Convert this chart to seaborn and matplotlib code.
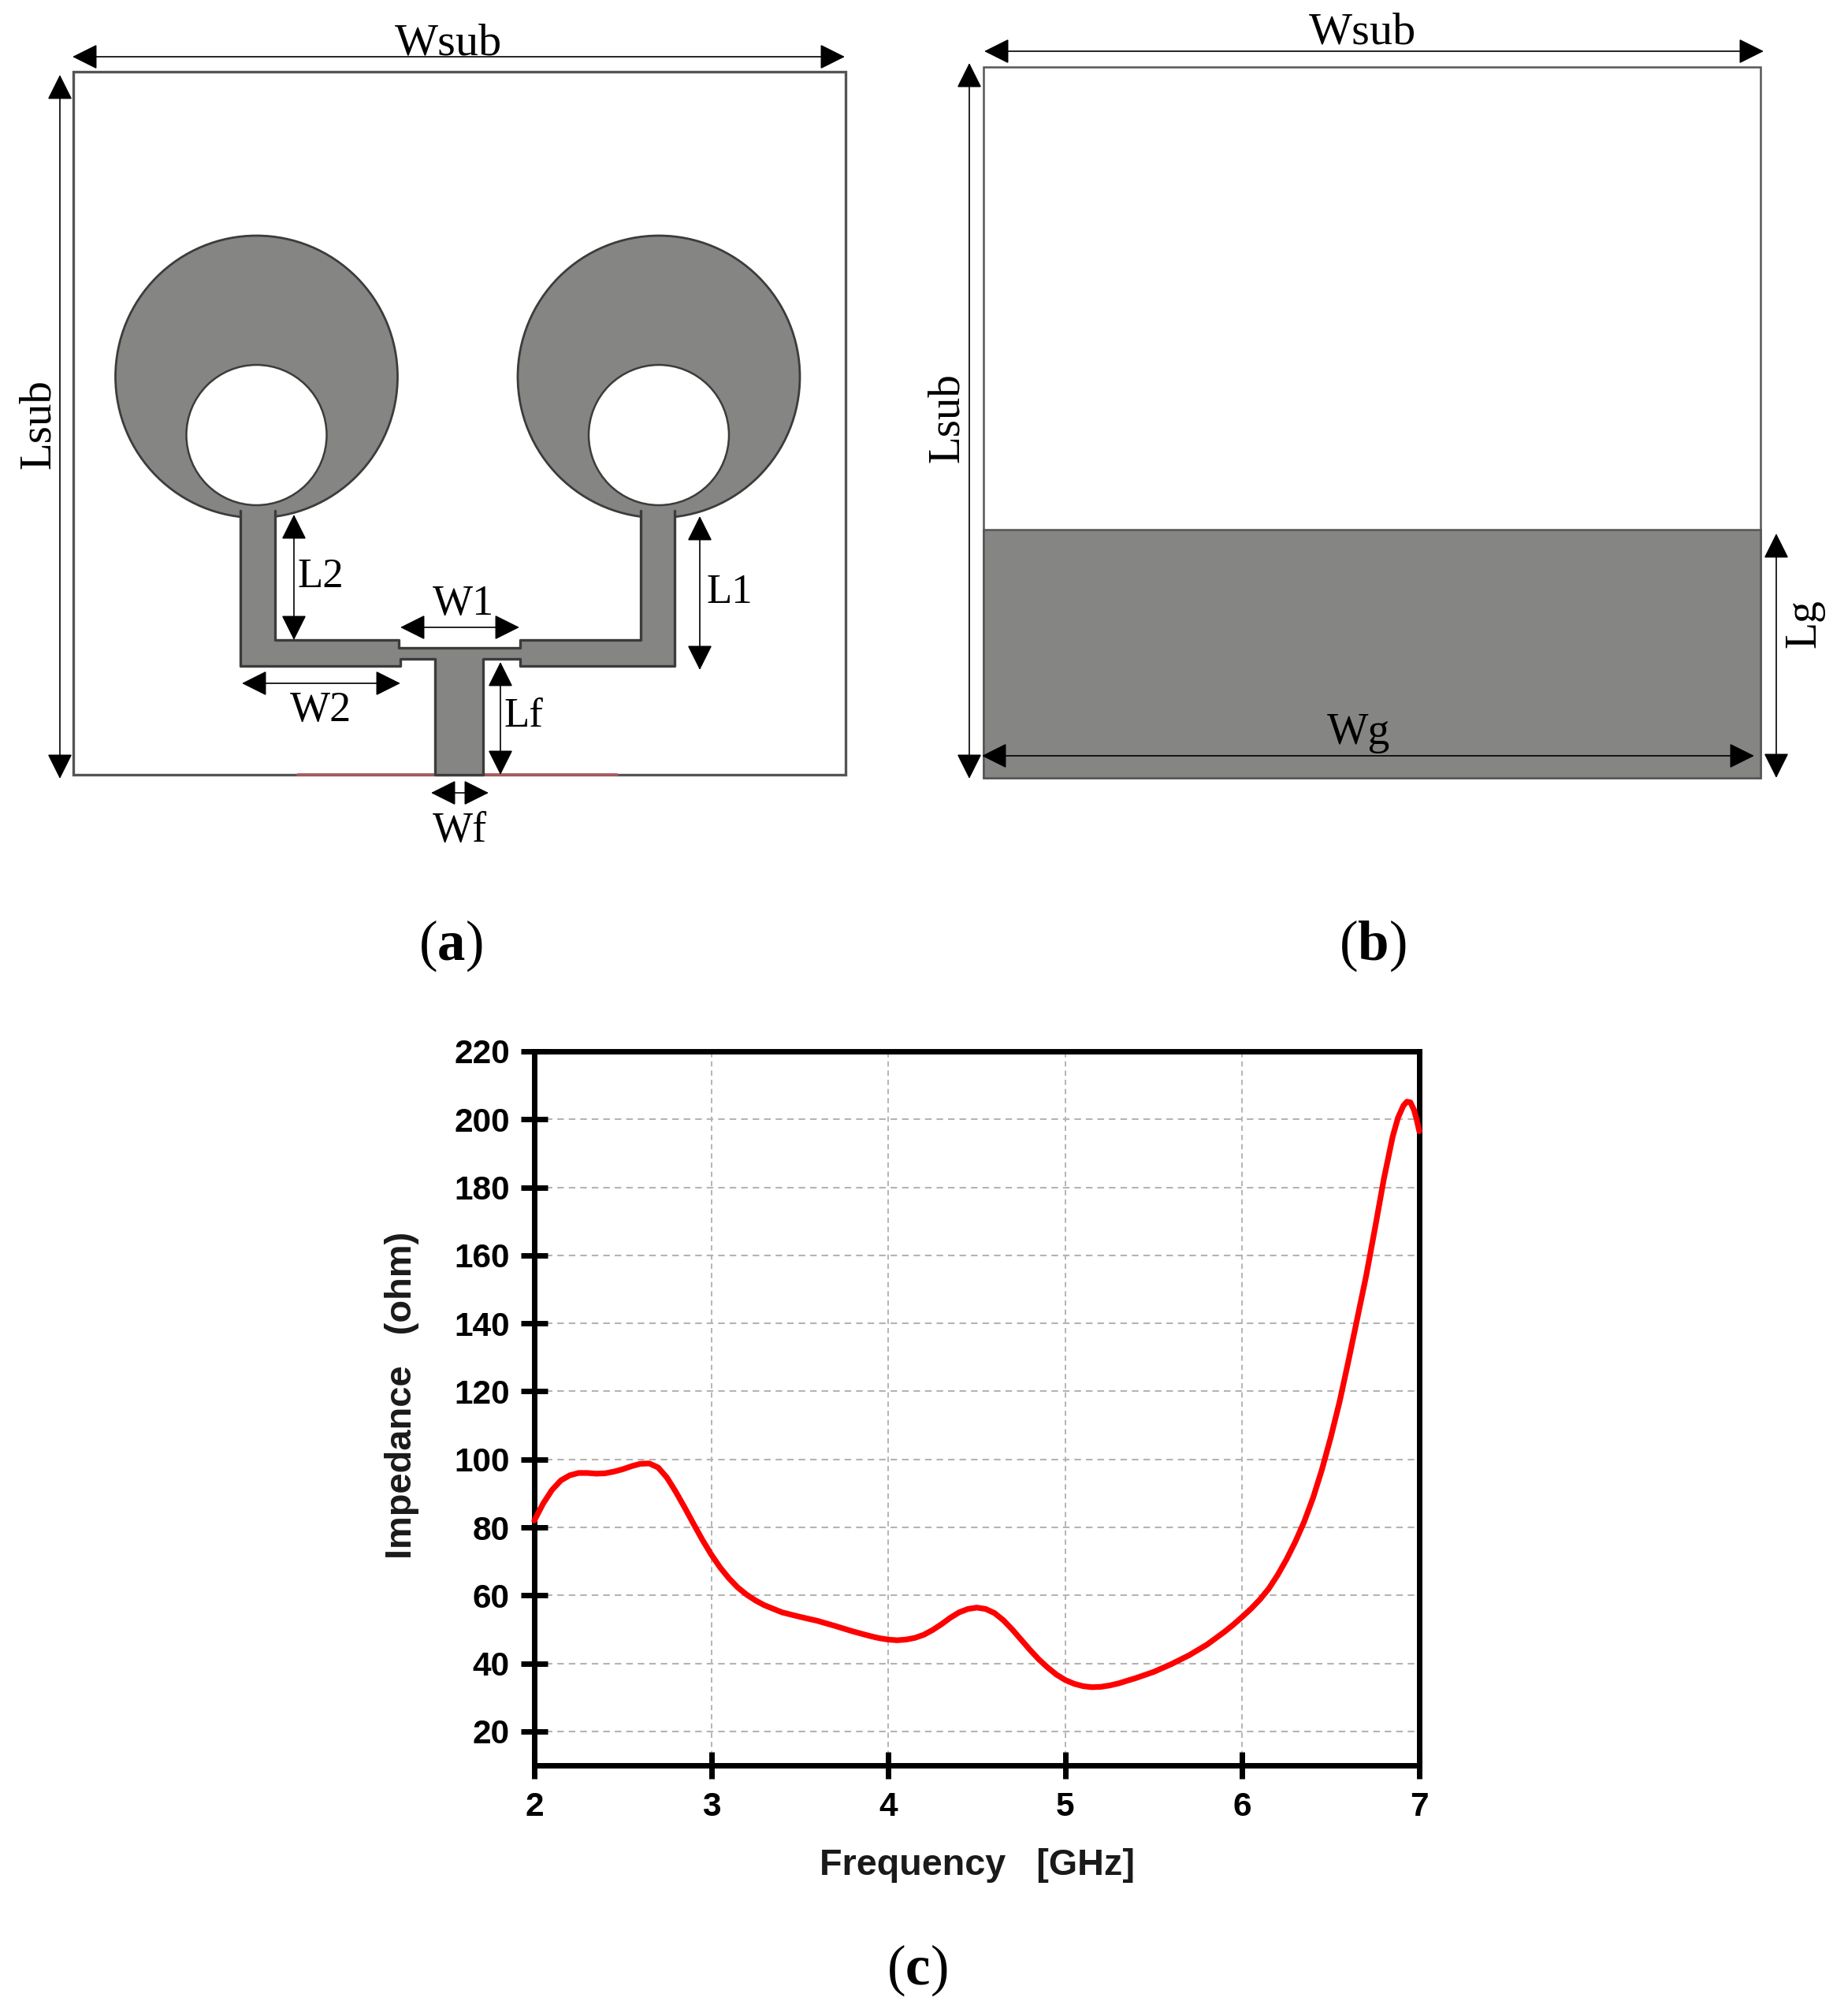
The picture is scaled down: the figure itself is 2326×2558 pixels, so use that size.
import matplotlib
matplotlib.use("Agg")
import matplotlib.pyplot as plt
from matplotlib.patches import Circle, Polygon, Rectangle
import seaborn as sns

# ---- chart data (panel c) ----
frequency = [2.0, 2.05, 2.1, 2.15, 2.2, 2.25, 2.3, 2.35, 2.4, 2.45, 2.5, 2.55, 2.6, 2.65, 2.7, 2.75, 2.8, 2.85,
             2.9, 2.95, 3.0, 3.05, 3.1, 3.15, 3.2, 3.25, 3.3, 3.4, 3.5, 3.6, 3.7, 3.8, 3.9, 3.95, 4.0, 4.05,
             4.1, 4.15, 4.2, 4.25, 4.3, 4.35, 4.4, 4.45, 4.5, 4.55, 4.6, 4.65, 4.7, 4.75, 4.8, 4.85, 4.9, 4.95,
             5.0, 5.05, 5.1, 5.15, 5.2, 5.25, 5.3, 5.4, 5.5, 5.6, 5.7, 5.8, 5.9, 5.95, 6.0, 6.05, 6.1, 6.15,
             6.2, 6.25, 6.3, 6.35, 6.4, 6.45, 6.5, 6.55, 6.6, 6.65, 6.7, 6.75, 6.8, 6.85, 6.88, 6.91, 6.93,
             6.95, 6.97, 6.985, 7.0]
impedance = [82, 87, 91, 93.8, 95.3, 96, 96, 95.8, 95.9, 96.4, 97.1, 98, 98.7, 98.8, 97.6, 94.6, 90.4, 85.8,
             81, 76.3, 72, 68.2, 65, 62.3, 60.2, 58.5, 57.1, 55, 53.7, 52.5, 51, 49.4, 48, 47.4, 47, 46.8,
             47, 47.5, 48.4, 49.8, 51.5, 53.4, 55, 56, 56.4, 56, 54.8, 52.7, 50, 47, 44, 41.2, 38.8, 36.7,
             35.1, 34, 33.3, 33, 33.1, 33.5, 34.1, 35.7, 37.5, 39.8, 42.4, 45.5, 49.3, 51.4, 53.7, 56.1, 58.8, 62,
             66, 70.6, 75.8, 81.7, 88.7, 97, 106.5, 117, 129, 141.5, 154, 168, 182.5, 195, 200.5, 204, 205.2,
             205, 202.8, 200, 196.5]
x_ticks = [2, 3, 4, 5, 6, 7]
y_ticks = [20, 40, 60, 80, 100, 120, 140, 160, 180, 200, 220]
x_title = "Frequency   [GHz]"
y_title = "Impedance   (ohm)"

# ---- schematic geometry (panels a, b), figure pixels ----
substrate_a = (93, 91, 1073, 983)
substrate_b = (1248, 85, 2234, 987)
ground_top = 672
patch_centers = [325.5, 836]
ring_y, ring_r = 478, 179
hole_y, hole_r = 552, 89
feed_outer = [(304.5, 648), (304.5, 845), (508, 845), (508, 836), (552, 836), (552, 983), (613, 983),
              (613, 836), (660, 836), (660, 845), (856, 845), (856, 648)]
feed_inner = [(813, 648), (813, 812), (660, 812), (660, 821.7), (506, 821.7), (506, 812), (348.5, 812), (348.5, 648)]
arrows = [((92, 72), (1072, 72)), ((76, 95), (76, 988)), ((373, 653), (373, 812)), ((888, 655), (888, 850)),
          ((508, 796), (659, 796)), ((307, 867), (508, 867)), ((635, 840), (635, 983)), ((547, 1006), (620, 1006)),
          ((1249, 65), (2238, 65)), ((1230, 80), (1230, 988)), ((2254, 677), (2254, 987)), ((1246, 959), (2226, 959))]
labels = [("Wsub", 569, 55, 0, 42), ("Lsub", 49, 538, 90, 41), ("L2", 407, 732, 0, 38), ("L1", 926, 752, 0, 38),
          ("W1", 588, 767, 0, 39), ("W2", 407, 902, 0, 39), ("Lf", 664, 909, 0, 38), ("Wf", 583, 1055, 0, 39),
          ("Wsub", 1729, 42, 0, 42), ("Lsub", 1202, 530, 90, 41), ("Lg", 2289, 791, 90, 40), ("Wg", 1724, 930, 0, 40)]
captions = [("a", 572, 1200), ("b", 1742, 1200), ("c", 1164, 2500)]

metal = "#858583"
edge = "#3c3c3c"
W, H, DPI = 2326, 2558, 100

sns.set_theme(style="white")
plt.rcParams["font.family"] = ["Liberation Sans", "DejaVu Sans"]
plt.rcParams["mathtext.fontset"] = "custom"
plt.rcParams["mathtext.bf"] = "Liberation Serif:bold"
plt.rcParams["mathtext.rm"] = "Liberation Serif"

fig = plt.figure(figsize=(W / DPI, H / DPI), dpi=DPI, facecolor="white")

# ---- schematic overlay ----
sk = fig.add_axes([0, 0, 1, 1], zorder=0)
sk.set_xlim(0, W)
sk.set_ylim(H, 0)
sk.axis("off")

x0, y0, x1, y1 = substrate_a
sk.add_patch(Rectangle((x0, y0), x1 - x0, y1 - y0, fc="white", ec="#555555", lw=2.4, zorder=1))
sk.plot([378, 783], [y1, y1], color="#a85a60", lw=2.6, zorder=1.5)
for cx in patch_centers:
    sk.add_patch(Circle((cx, ring_y), ring_r, fc=metal, ec=edge, lw=2.0, zorder=2))
    sk.add_patch(Circle((cx, hole_y), hole_r, fc="white", ec=edge, lw=1.8, zorder=2.1))
sk.add_patch(Polygon(feed_outer + feed_inner, closed=True, fc=metal, ec="none", zorder=2.2))
for run in (feed_outer, feed_inner):
    sk.plot([p[0] for p in run], [p[1] for p in run], color=edge, lw=2.4, zorder=2.3)

x0, y0, x1, y1 = substrate_b
sk.add_patch(Rectangle((x0, y0), x1 - x0, y1 - y0, fc="white", ec="#555555", lw=1.8, zorder=1))
sk.add_patch(Rectangle((x0, ground_top), x1 - x0, y1 - ground_top, fc=metal, ec="#555555", lw=1.8, zorder=1.2))

for a, b in arrows:
    sk.annotate("", xy=b, xytext=a, zorder=4,
                arrowprops=dict(arrowstyle="<|-|>,head_length=1,head_width=0.5", mutation_scale=20,
                                shrinkA=0, shrinkB=0, lw=1.2, color="black", fc="black"))
for s, x, y, rot, size in labels:
    sk.text(x, y, s, family="Liberation Serif", fontsize=size, rotation=rot, ha="center", va="center",
            color="black", zorder=5)
for s, x, y in captions:
    sk.text(x, y, "(" + r"$\mathbf{" + s + "}$" + ")", family="Liberation Serif", fontsize=51,
            ha="center", va="center", color="black", zorder=5)

# ---- impedance chart ----
L, R, T, B = 678, 1801, 1334, 2240
ax = fig.add_axes([L / W, (H - B) / H, (R - L) / W, (B - T) / H], zorder=1)
ax.patch.set_alpha(0)
sns.lineplot(x=frequency, y=impedance, ax=ax, color="#ff0000", lw=5.2, estimator=None, errorbar=None,
             sort=False, clip_on=False, zorder=5)
ax.set_xlim(2, 7)
ax.set_ylim(10, 220)
ax.set_xticks(x_ticks)
ax.set_yticks(y_ticks)
ax.tick_params(axis="both", which="major", direction="inout", length=25, width=5, color="black",
               labelcolor="black", labelsize=30.5, bottom=True, left=True)
ax.tick_params(axis="x", pad=11)
ax.tick_params(axis="y", pad=10)
for lab in ax.get_xticklabels() + ax.get_yticklabels():
    lab.set_fontweight("bold")
ax.grid(True, axis="y", color="#b4b4b0", lw=1.5, linestyle=(0, (4, 3)))
ax.grid(True, axis="x", color="#a8a8a8", lw=1.2, linestyle=(0, (4, 3)))
ax.set_axisbelow(True)
for sp in ax.spines.values():
    sp.set_visible(True)
    sp.set_color("black")
    sp.set_linewidth(5)
ax.set_xlabel(x_title, fontsize=33.7, fontweight="bold", color="#1a1a1a", va="center")
ax.set_ylabel(y_title, fontsize=33.8, fontweight="bold", color="#1a1a1a", va="center")
ax.xaxis.set_label_coords((1240 - L) / (R - L), -(2367 - B) / (B - T))
ax.yaxis.set_label_coords((510 - L) / (R - L), (B - 1770) / (B - T))

fig.savefig("out.png", dpi=DPI, facecolor="white")
